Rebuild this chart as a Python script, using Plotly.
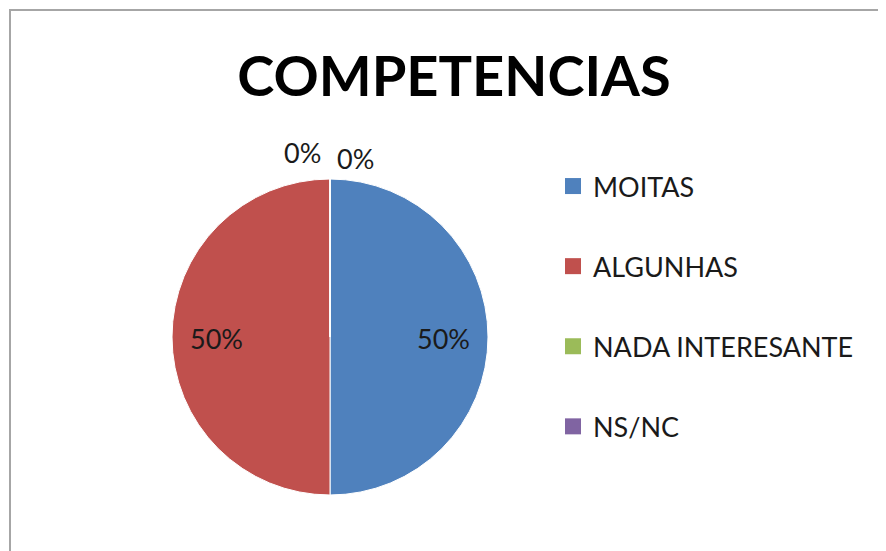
import math
import plotly.graph_objects as go

title = "COMPETENCIAS"
categories = ["MOITAS", "ALGUNHAS", "NADA INTERESANTE", "NS/NC"]
values = [1, 1, 0, 0]
colors = ["#4F81BD", "#C0504D", "#9BBB59", "#8064A2"]

W, H = 886, 551
OFF = 8  # page body margin offset of the figure in the browser
FONT = "Lato"
TXT = "#1a1a1a"


def px(x):  # page pixel x -> paper
    return (x - OFF) / W


def py(y):  # page pixel y -> paper
    return 1 - (y - OFF) / H


# pie geometry (page pixels)
CX, CY, R = 330, 337, 158

fig = go.Figure()
fig.add_trace(go.Pie(
    labels=categories, values=values, sort=False, direction="clockwise",
    rotation=0, marker=dict(colors=colors, line=dict(color="white", width=1)),
    textinfo="none",
    domain=dict(x=[px(CX - R), px(CX + R)], y=[py(CY + R), py(CY - R)]),
    showlegend=False, hoverinfo="label+percent",
))

# legend entries as dummy scatter traces, one group each for spacing
for cat, col in zip(categories, colors):
    fig.add_trace(go.Scatter(
        x=[None], y=[None], mode="markers", name=cat, legendgroup=cat,
        marker=dict(symbol="square", size=16, color=col),
    ))

# data labels placed like the source chart (percent from values)
total = sum(values)
annotations = []
zero_offsets = [(-28, -185), (25, -179)]
zi = 0
cum = 0.0
for v in values:
    frac = v / total
    mid = (cum + frac / 2) * 2 * math.pi
    cum += frac
    if v > 0:
        x = CX + 0.72 * R * math.sin(mid)
        y = CY - 0.72 * R * math.cos(mid) + 1
    else:
        dx, dy = zero_offsets[zi]
        zi += 1
        x, y = CX + dx, CY + dy
    annotations.append(dict(
        text=f"{frac:.0%}", x=px(x), y=py(y), xref="paper", yref="paper",
        xanchor="center", yanchor="middle", showarrow=False,
        font=dict(family=FONT, size=27, color=TXT)))

fig.update_layout(
    width=W, height=H, margin=dict(l=0, r=0, t=0, b=0),
    paper_bgcolor="white", plot_bgcolor="white",
    title=dict(text="<b>" + title + "</b>", x=px(454), xanchor="center",
               y=py(76), yanchor="middle",
               font=dict(family=FONT, size=56, color="black")),
    xaxis=dict(visible=False), yaxis=dict(visible=False),
    legend=dict(x=px(553), xanchor="left", y=py(162), yanchor="top",
                font=dict(family=FONT, size=27, color=TXT),
                tracegroupgap=42, bgcolor="rgba(0,0,0,0)"),
    annotations=annotations,
    shapes=[dict(type="rect", xref="paper", yref="paper",
                 x0=px(10), x1=1.05, y0=-0.05, y1=py(10),
                 line=dict(color="#A6A6A6", width=2))],
)

fig.write_html("out.html")
